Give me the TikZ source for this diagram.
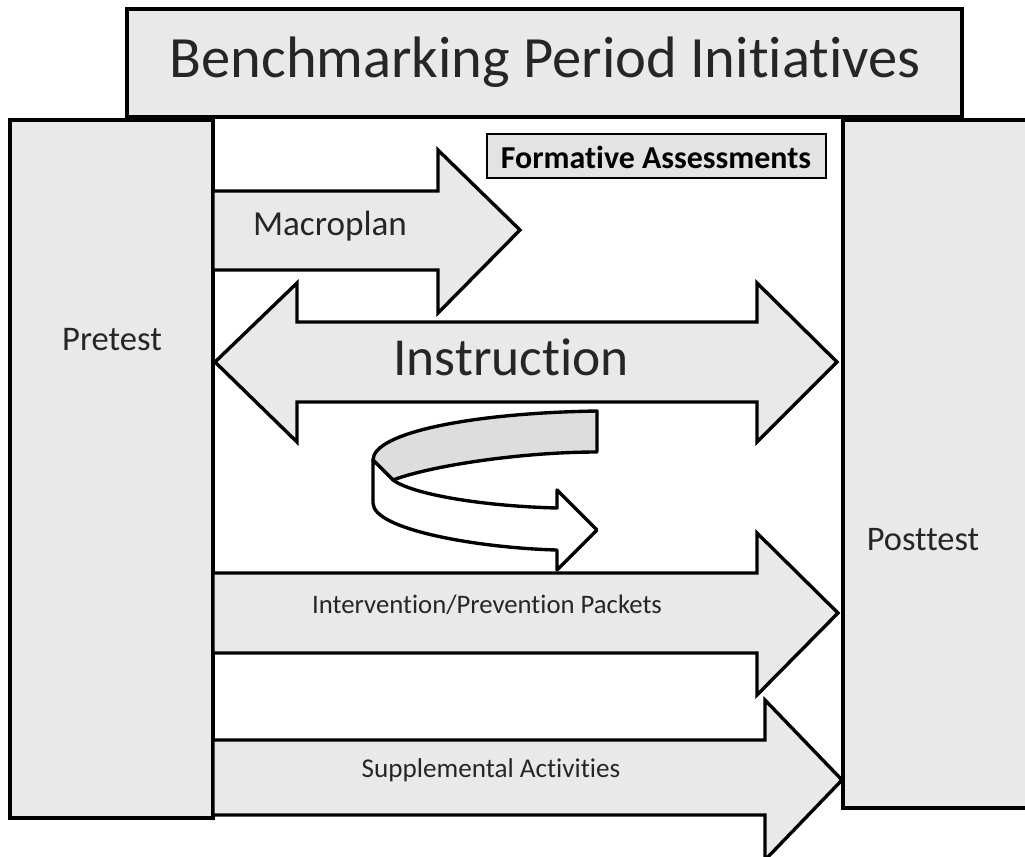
\documentclass[tikz,border=0pt]{standalone}
\usepackage{fontspec}
\setmainfont{Carlito}[Ligatures=NoCommon]
\usepackage{tikz}

\tikzset{
  panel/.style={draw=black, line width=2.4pt, fill=gray!17},
  blockarrow/.style={draw=black, line width=2.4pt, fill=gray!17, line join=miter},
  label/.style={text=black!85, inner sep=0pt},
}

\begin{document}
\begin{tikzpicture}[x=0.025cm, y=-0.025cm]
  % Page frame
  \useasboundingbox (0,0) rectangle (1025,856);
  \clip (0,0) rectangle (1025,856);

  % Title
  \draw[panel] (127,9) rectangle (962,117);
  \node[label] (title) at (545,62) {\fontsize{41.6}{48}\selectfont Benchmarking Period Initiatives};

  % Pretest and posttest columns
  \draw[panel] (10,120) rectangle (213,818);
  \node[label] (pre) at (112,340) {\fontsize{24.6}{30}\selectfont Pretest};
  \draw[panel] (843,120) rectangle (1040,808);
  \node[label] (post) at (923,540) {\fontsize{24.5}{30}\selectfont Posttest};

  % Formative assessments tag
  \draw[panel, line width=1.5pt, fill=gray!22] (487,134) rectangle (826,178);
  \node[label, text=black] (form) at (656,157) {\fontsize{22.7}{28}\selectfont\bfseries Formative Assessments};

  % Macroplan arrow
  \draw[blockarrow] (213,191) -- (438,191) -- (438,150) -- (520,230) -- (438,313) -- (438,270) -- (213,270) -- cycle;
  \node[label] (macro) at (330,226) {\fontsize{25}{30}\selectfont Macroplan};

  % Instruction double arrow
  \draw[blockarrow] (215,362) -- (297,283) -- (297,322) -- (757,322) -- (757,283) -- (837,362)
    -- (757,442) -- (757,402) -- (297,402) -- (297,442) -- cycle;
  \node[label] (instr) at (511,357) {\fontsize{38}{44}\selectfont Instruction};

  % Turning arrow
  \draw[line width=2.4pt, fill=gray!27, line join=round] (597,411) .. controls (470,413) and (373,433) .. (373,460)
    -- (393,480) .. controls (430,466) and (520,452) .. (597,452) -- cycle;
  \draw[line width=2.4pt, fill=white, line join=round] (373,460) -- (373,503) .. controls (373,530) and (480,548) .. (557,550)
    -- (557,570) -- (597,530) -- (557,490) -- (557,508) .. controls (480,506) and (412,494) .. (393,480) -- cycle;

  % Intervention/Prevention arrow
  \draw[blockarrow] (213,573) -- (757,573) -- (757,533) -- (838,613) -- (757,695) -- (757,653) -- (213,653) -- cycle;
  \node[label] (packets) at (487,605) {\fontsize{19}{24}\selectfont Intervention/Prevention Packets};

  % Supplemental arrow
  \draw[blockarrow] (213,740) -- (765,740) -- (765,700) -- (842,780) -- (765,860) -- (765,815) -- (213,815) -- cycle;
  \node[label] (suppl) at (491,770) {\fontsize{19.3}{24}\selectfont Supplemental Activities};
\end{tikzpicture}
\end{document}
